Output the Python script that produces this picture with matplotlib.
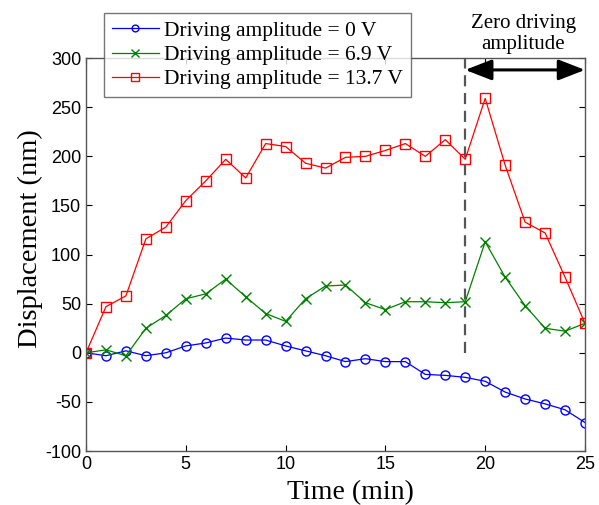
import matplotlib
matplotlib.use("Agg")
import matplotlib.pyplot as plt
import numpy as np

plt.rcParams["axes.unicode_minus"] = False

time_min = list(range(26))
disp_0V = [0, -3, 2, -3, 0, 7, 10, 15, 13, 13, 7, 2, -3, -9, -6, -9, -9, -22, -23, -25, -29, -40, -47, -52, -58, -71]
disp_6_9V = [0, 3, -3, 25, 38, 55, 60, 75, 57, 40, 32, 55, 68, 69, 51, 44, 52, 52, 51, 52, 113, 77, 48, 25, 22, 30]
disp_13_7V = [0, 47, 58, 116, 128, 155, 175, 197, 178, 213, 210, 193, 188, 199, 200, 206, 213, 200, 217, 197, 259, 191, 133, 122, 77, 30]
labels = ["Driving amplitude = 0 V", "Driving amplitude = 6.9 V", "Driving amplitude = 13.7 V"]
x_ticks = [0, 5, 10, 15, 20, 25]
y_ticks = [-100, -50, 0, 50, 100, 150, 200, 250, 300]
switch_time = 19

serif = "Liberation Serif"
sans = "Liberation Sans"

fig = plt.figure(figsize=(5.99, 5.05), dpi=100)
ax = fig.add_axes([0.1436, 0.1069, 0.833, 0.778])

ax.plot(time_min, disp_0V, color="#0000ff", marker="o", markersize=6.5, mfc="none", lw=0.9, label=labels[0])
ax.plot(time_min, disp_6_9V, color="#008000", marker="x", markersize=7, lw=0.9, label=labels[1])
ax.plot(time_min, disp_13_7V, color="#ff0000", marker="s", markersize=7, mfc="none", lw=0.9, label=labels[2])

ax.set_xlim(0, 25)
ax.set_ylim(-100, 300)
ax.set_xticks(x_ticks)
ax.set_yticks(y_ticks)
ax.tick_params(direction="in", top=True, right=True, length=4, labelsize=13, colors="#000000")
for lab in ax.get_xticklabels() + ax.get_yticklabels():
    lab.set_fontfamily(sans)
for s in ax.spines.values():
    s.set_color("#555555")
    s.set_linewidth(1.0)

ax.set_xlabel("Time (min)", fontfamily=serif, fontsize=20)
ax.set_ylabel("Displacement (nm)", fontfamily=serif, fontsize=20.5)
ax.xaxis.set_label_coords(0.53, -0.075)
ax.yaxis.set_label_coords(-0.087, 0.54)

ax.plot([switch_time, switch_time], [0, 300], color="#555555", lw=1.6, ls=(0, (5, 3)))
ax.annotate("", xy=(25, 288), xytext=(switch_time, 288),
            arrowprops=dict(arrowstyle="<|-|>,head_length=0.9,head_width=0.35", color="black", lw=2.2,
                            mutation_scale=18, shrinkA=0, shrinkB=0))
ax.text(21.9, 304, "Zero driving\namplitude", ha="center", va="bottom", fontfamily=serif,
        fontsize=15, linespacing=1.15)

leg = ax.legend(loc="upper left", bbox_to_anchor=(0.036, 1.1145), prop={"family": serif, "size": 15.5},
                frameon=True, fancybox=False, edgecolor="#555555", borderpad=0.35, labelspacing=0.2,
                handlelength=2.2, handletextpad=0.25, borderaxespad=0, markerscale=0.75)
leg.get_frame().set_linewidth(1.0)

fig.savefig("out.png", dpi=100)
